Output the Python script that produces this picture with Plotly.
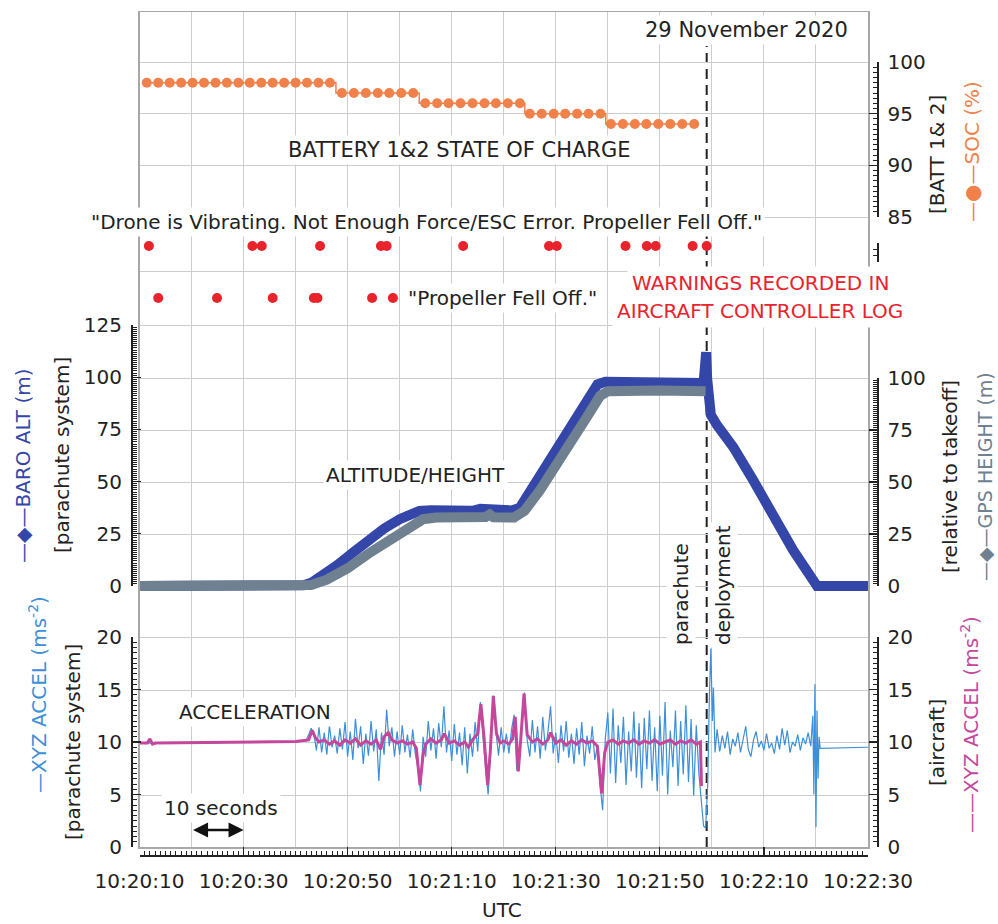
import pandas as pd
import plotly.graph_objects as go

# ---------------- data (seconds after 10:20:10 UTC, 29 Nov 2020) ----------------
BASE = pd.Timestamp("2020-11-29 10:20:10")

soc_t = [1.4, 3.6, 5.8, 8.0, 10.2, 12.4, 14.6, 16.8, 19.0, 21.2, 23.4, 25.6, 27.8, 30.0, 32.2, 34.4, 36.6,
         38.9, 41.2, 43.5, 45.8, 48.0, 50.3, 52.6,
         54.9, 57.2, 59.4, 61.7, 64.0, 66.3, 68.5, 70.8, 73.1,
         75.0, 77.3, 79.6, 81.8, 84.1, 86.3, 88.6,
         90.6, 92.9, 95.2, 97.4, 99.7, 102.0, 104.3, 106.6]
soc_v = [98] * 17 + [97] * 7 + [96] * 9 + [95] * 7 + [94] * 8

warn_row1_t = [1.8, 21.7, 23.5, 34.7, 46.4, 47.5, 62.2, 78.7, 80.2, 93.4, 97.5, 99.2, 106.3, 109.0]
warn_row2_t = [3.6, 14.9, 25.6, 33.5, 34.2, 44.7, 48.7]
WARN_ROW1 = 2
WARN_ROW2 = 1

baro_t = [0, 30, 31.5, 33, 35, 38, 41, 44, 47, 50, 52, 53.8, 56, 60, 64, 65.5, 66.8, 68.3, 71.5, 73.1,
          75, 78, 81, 84, 86.5, 88, 89.5, 95, 100, 105, 108.4, 108.7, 108.9, 109.1, 109.4, 109.8,
          111, 114.1, 117.9, 121.7, 125.6, 130.2, 140]
baro_v = [0, 0, 0.3, 1.5, 4.5, 10, 16, 22, 27.5, 32, 34.5, 36.0, 36.3, 36.0, 36.0, 37.0, 36.8, 36.0, 36.2, 37.5,
          45, 57, 69, 81, 91, 96.5, 97.8, 97.5, 97.6, 97.5, 97.2, 106, 112, 99, 86, 82,
          77, 66.6, 50.8, 33.2, 17.2, 0, 0]

gps_t = [0, 31, 33, 36, 40, 44, 48, 52, 54.5, 57, 64, 66.5, 67.3, 68, 72, 74, 77, 80, 83, 86, 88.5, 90, 100, 108.8]
gps_v = [0, 0, 0.5, 3, 8.5, 15.5, 22, 28.5, 32, 32.8, 32.8, 33.0, 34.2, 32.9, 32.8, 36, 46, 57, 69, 81, 91.0, 93.3, 93.6, 93.3]

acc_para_t = [0, 5, 10, 15, 20, 25, 30, 32, 33,
              33.5, 34.0, 34.5, 35.0, 35.5, 36.0, 36.5, 37.0, 37.5, 38.0, 38.5, 39.0, 39.5, 40.0, 40.5, 41.0,
              41.5, 42.0, 42.5, 43.0, 43.5, 44.0, 44.5, 45.0, 45.5, 46.0, 46.5, 47.0, 47.5, 48.0, 48.5, 49.0,
              49.5, 50.0, 50.5, 51.0, 51.5, 52.0, 52.5, 53.0, 53.5, 54.0, 54.5, 55.0, 55.5, 56.0, 56.5, 57.0,
              57.5, 58.0, 58.5, 59.0, 59.5, 60.0, 60.5, 61.0, 61.5, 62.0, 62.5, 63.0, 63.5, 64.0, 64.5, 65.0,
              65.5, 66.0, 66.5, 67.0, 67.5, 68.0, 68.5, 69.0, 69.5, 70.0, 70.5, 71.0, 71.5, 72.0, 72.5, 73.0,
              73.5, 74.0, 74.5, 75.0, 75.5, 76.0, 76.5, 77.0, 77.5, 78.0, 78.5, 79.0, 79.5, 80.0, 80.5, 81.0,
              81.5, 82.0, 82.5, 83.0, 83.5, 84.0, 84.5, 85.0, 85.5, 86.0, 86.5, 87.0, 87.5, 88.0, 88.5, 89.0,
              89.5, 90.0, 90.5, 91.0, 91.5, 92.0, 92.5, 93.0, 93.5, 94.0, 94.5, 95.0, 95.5, 96.0, 96.5, 97.0,
              97.5, 98.0, 98.5, 99.0, 99.5, 100.0, 100.5, 101.0, 101.5, 102.0, 102.5, 103.0, 103.5, 104.0,
              104.5, 105.0, 105.5, 106.0, 106.5, 107.0, 107.5, 108.0,
              108.4, 108.8, 109.2, 109.5, 109.8, 110.1, 110.3, 110.6,
              111.0, 111.5, 112.0, 112.5, 113.0, 113.5, 114.0, 114.5, 115.0, 115.5, 116.0, 116.5, 117.0,
              117.5, 118.0, 118.5, 119.0, 119.5, 120.0, 120.5, 121.0, 121.5, 122.0, 122.5, 123.0, 123.5,
              124.0, 124.5, 125.0, 125.5, 126.0, 126.5, 127.0, 127.5, 128.0, 128.5, 129.0, 129.4, 129.6,
              129.8, 130.0, 130.2, 130.4, 130.6, 130.8, 140.0]
acc_para_v = [9.9, 9.9, 9.95, 9.95, 10.0, 10.0, 10.0, 10.1, 11.3,
              10.8, 9.2, 11.4, 9.0, 10.9, 8.8, 11.6, 9.5, 10.6, 8.9, 11.3, 9.3, 11.9, 8.6, 11.0, 8.3,
              12.2, 9.4, 11.5, 7.9, 10.8, 8.7, 12.0, 9.1, 11.2, 6.3, 10.9, 8.8, 13.1, 9.6, 11.4, 8.6,
              11.0, 8.8, 11.6, 9.0, 10.7, 8.5, 11.2, 8.9, 7.5, 5.3, 10.5, 8.6, 12.0, 9.2, 11.3, 8.4,
              11.8, 9.5, 13.4, 9.0, 11.1, 8.2, 11.7, 8.8, 10.9, 7.8, 11.4, 7.0, 10.8, 8.6, 11.9, 9.1,
              13.8, 10.5, 7.5, 5.0, 9.5, 14.4, 11.0, 8.7, 11.4, 9.0, 10.8, 8.9, 11.2, 12.6, 7.3, 8.3,
              12.2, 14.7, 10.2, 8.6, 12.1, 9.0, 11.5, 8.4, 12.4, 9.2, 11.0, 13.4, 8.9, 10.9, 8.0, 11.6,
              9.1, 12.0, 8.5, 10.8, 7.9, 11.3, 8.8, 11.9, 7.7, 10.6, 8.9, 11.5, 8.3, 9.6, 6.0, 3.5,
              10.2, 12.8, 7.0, 13.2, 6.1, 11.6, 8.0, 12.4, 5.9, 11.0, 7.2, 12.9, 6.6, 11.8, 5.6, 12.3,
              7.4, 13.0, 6.3, 11.4, 5.3, 12.5, 6.8, 13.8, 5.0, 11.1, 7.6, 13.0, 5.8, 12.0,
              6.9, 13.5, 6.2, 12.2, 4.9, 11.6, 7.0, 4.5,
              2.0, 1.8, 6.0, 14.0, 18.9, 12.0, 15.2, 9.0,
              11.2, 9.1, 10.6, 9.4, 11.0, 8.8, 10.3, 9.6, 10.9, 9.0, 10.4, 11.5, 9.3,
              8.6, 10.2, 11.0, 9.5, 10.1, 9.2, 10.8, 9.4, 9.9, 8.9, 10.6, 9.3, 11.3,
              9.7, 11.1, 9.0, 10.0, 9.6, 10.7, 9.2, 10.4, 9.8, 10.9, 9.6, 12.5, 5.0,
              15.5, 1.9, 13.0, 6.5, 10.5, 9.4, 9.5]

acc_air_t = [0, 1.5, 2.0, 2.5, 3, 10, 20, 30, 32.5, 33.2, 33.8, 34.5,
             35.5, 36.5, 37.5, 38.5, 39.5, 40.5, 41.5, 42.5, 43.5, 44.5, 45.5, 46.3, 47.0, 47.8, 48.5,
             49.5, 50.5, 51.5, 52.5, 53.2, 53.9, 54.5, 55.0, 56.0, 57.0, 58.0, 58.6, 59.5, 60.5, 61.5,
             62.5, 63.2, 64.0, 65.0, 65.6, 66.2, 66.9, 67.4, 68.0, 68.6, 69.3, 70.0, 71.0, 71.7, 72.2,
             72.8, 73.3, 73.9, 74.5, 75.5, 76.5, 77.5, 78.5, 79.0, 80.0, 81.0, 82.0, 83.0, 84.0, 85.0,
             86.0, 87.0, 88.0, 88.8, 89.4, 90.0, 91, 92, 93, 94, 95, 96, 97, 98, 99, 100, 101, 102,
             103, 104, 105, 106, 107, 107.8, 108.0]
acc_air_v = [9.9, 9.9, 10.3, 9.8, 9.9, 9.95, 10.0, 10.05, 10.2, 11.1, 10.4, 10.0,
             10.2, 9.8, 10.1, 9.7, 10.2, 9.9, 10.3, 9.7, 10.1, 9.8, 10.2, 9.3, 10.5, 10.9, 10.2,
             9.9, 10.1, 9.8, 10.0, 9.4, 5.9, 8.8, 9.8, 10.3, 9.9, 10.2, 10.8, 9.9, 10.1, 9.7,
             10.0, 9.5, 10.2, 10.8, 13.6, 10.5, 5.9, 9.0, 14.4, 10.8, 9.9, 10.1, 9.8, 10.3, 12.4,
             7.2, 10.5, 14.6, 10.7, 10.0, 10.3, 9.8, 10.2, 10.9, 9.9, 10.2, 9.7, 10.1, 9.8, 10.2,
             9.9, 10.1, 9.6, 5.1, 9.0, 10.0, 10.2, 9.8, 10.1, 9.9, 10.2, 9.8, 10.1, 9.9, 10.2, 9.8, 10.0, 10.2,
             9.8, 10.1, 9.9, 10.2, 9.8, 10.0, 5.8]

deploy_t = 109.0
x_tick_labels_every_s = 20

# ---------------- geometry (reference pixel coordinates) ----------------
W, H = 998, 924
ML, MT, MR, MB = 131, 12, 998 - 877, 924 - 855
PW, PH = W - ML - MR, H - MT - MB
FRAME_BOTTOM, FRAME_TOP = 847, 12
GRID_ROWS = [847, 795, 742, 690, 637, 586, 534, 482, 430, 378, 325, 271, 217, 165, 113, 62, 12]


def px(x):
    return (x - ML) / PW


def py(y):
    return (H - MB - y) / PH


def span(v0, p0, v1, p1):
    """data range of an overlay axis so that value v0 sits on pixel row p0 and v1 on p1"""
    s = (v1 - v0) / (p0 - p1)
    return [v0 + (p0 - FRAME_BOTTOM) * s, v0 + (p0 - FRAME_TOP) * s]


def T(lst):
    return [BASE + pd.Timedelta(seconds=s) for s in lst]


def Ts(s):
    return (BASE + pd.Timedelta(seconds=s)).strftime("%Y-%m-%d %H:%M:%S.%f")[:-3]


FONT = "DejaVu Sans"
INK = "#222222"
GRID = "#cdcdcd"
FRAME = "#a8a8a8"
BLUE = "#3447a8"
GREY = "#6f8091"
ORANGE = "#f0814b"
RED = "#e8232b"
LBLUE = "#3c8fd8"
MAGENTA = "#c4479c"

XR = [Ts(0), Ts(140)]
XD = [px(139.5), px(868)]
YD = [py(FRAME_BOTTOM), py(FRAME_TOP)]

fig = go.Figure()
fig.add_trace(go.Scatter(x=T(soc_t), y=soc_v, mode="lines+markers", yaxis="y2",
                         line=dict(color=ORANGE, width=1.5, shape="hvh"),
                         marker=dict(size=10, color=ORANGE)))
fig.add_trace(go.Scatter(x=T(warn_row1_t), y=[WARN_ROW1] * len(warn_row1_t), mode="markers", yaxis="y3",
                         marker=dict(size=10, color=RED)))
fig.add_trace(go.Scatter(x=T(warn_row2_t), y=[WARN_ROW2] * len(warn_row2_t), mode="markers", yaxis="y3",
                         marker=dict(size=10, color=RED)))
fig.add_trace(go.Scatter(x=T(baro_t), y=baro_v, mode="lines", yaxis="y4",
                         line=dict(color=BLUE, width=10)))
fig.add_trace(go.Scatter(x=T(gps_t), y=gps_v, mode="lines", yaxis="y4",
                         line=dict(color=GREY, width=10)))
fig.add_trace(go.Scatter(x=T(acc_para_t), y=acc_para_v, mode="lines", yaxis="y5",
                         line=dict(color=LBLUE, width=1.2)))
fig.add_trace(go.Scatter(x=T(acc_air_t), y=acc_air_v, mode="lines", yaxis="y5",
                         line=dict(color=MAGENTA, width=3)))

# invisible copies that bind the scale (tick) axes to the same data
ghost = dict(mode="lines", line=dict(width=0), opacity=0, hoverinfo="skip")
fig.add_trace(go.Scatter(x=T(soc_t), y=soc_v, xaxis="x2", yaxis="y6", **ghost))
fig.add_trace(go.Scatter(x=T(warn_row1_t), y=[WARN_ROW1] * len(warn_row1_t), xaxis="x2", yaxis="y7", **ghost))
fig.add_trace(go.Scatter(x=T(baro_t), y=baro_v, xaxis="x2", yaxis="y8", **ghost))
fig.add_trace(go.Scatter(x=T(gps_t), y=gps_v, xaxis="x2", yaxis="y9", **ghost))
fig.add_trace(go.Scatter(x=T(acc_para_t), y=acc_para_v, xaxis="x2", yaxis="y10", **ghost))
fig.add_trace(go.Scatter(x=T(acc_air_t), y=acc_air_v, xaxis="x2", yaxis="y11", **ghost))

tickfont = dict(family=FONT, size=20, color=INK)


def tick_axis(pix, rng, dtick, minor, side, **kw):
    d = dict(domain=[py(pix[0]), py(pix[1])], range=rng, anchor="free",
             position=0 if side == "left" else 1, side=side, automargin=False,
             tick0=0, dtick=dtick, ticks="inside", ticklen=8, tickwidth=1.2, tickcolor=INK,
             showline=True, linecolor=INK, linewidth=1.5, showgrid=False, zeroline=False,
             tickfont=tickfont, ticklabelstandoff=5,
             minor=dict(dtick=minor, ticks="inside", ticklen=4, tickwidth=1, tickcolor=INK, showgrid=False))
    d.update(kw)
    return d


layout = dict(
    width=W, height=H, margin=dict(l=ML, r=MR, t=MT, b=MB, pad=0, autoexpand=False),
    paper_bgcolor="white", plot_bgcolor="rgba(0,0,0,0)",
    font=dict(family=FONT, size=20, color=INK),
    showlegend=False,
    xaxis=dict(domain=XD, type="date", range=XR, tick0=Ts(0), dtick=10000, showgrid=True,
               gridcolor=GRID, gridwidth=1, showticklabels=False, ticks="", showline=True,
               mirror=True, linecolor=FRAME, linewidth=1.5, zeroline=False, anchor="y", automargin=False),
    xaxis2=dict(domain=XD, type="date", range=XR, overlaying="x", anchor="free", position=0,
                side="bottom", tick0=Ts(0), dtick=x_tick_labels_every_s * 1000, tickformat="%H:%M:%S",
                ticks="inside", ticklen=8, tickwidth=1.2, tickcolor=INK, showline=True, linecolor=INK,
                linewidth=1.5, showgrid=False, zeroline=False, tickfont=tickfont, ticklabelstandoff=7,
                automargin=False,
                minor=dict(dtick=1000, ticks="inside", ticklen=4, tickwidth=1, tickcolor=INK, showgrid=False)),
    # background grid axis: its values are pixel rows (negated)
    yaxis=dict(domain=YD, range=[-FRAME_BOTTOM, -FRAME_TOP], tickmode="array",
               tickvals=[-r for r in GRID_ROWS], showgrid=True, gridcolor=GRID,
               showticklabels=False, ticks="", showline=True, mirror=True, linecolor=FRAME,
               linewidth=1.5, zeroline=False, automargin=False),
    yaxis2=dict(overlaying="y", range=span(85, 217, 100, 62), visible=False),
    yaxis3=dict(overlaying="y", range=span(WARN_ROW2, 298, WARN_ROW1, 246), visible=False),
    yaxis4=dict(overlaying="y", range=span(0, 586, 125, 325), visible=False),
    yaxis5=dict(overlaying="y", range=span(0, 847, 20, 637), visible=False),
    yaxis6=tick_axis((217, 62), [85, 100], 5, 0.5, "right"),
    yaxis7=tick_axis((262, 243), [0, 3], 1, 1, "right", showticklabels=False, ticklen=4),
    yaxis8=tick_axis((586, 325), [0, 125], 25, 1, "left"),
    yaxis9=tick_axis((586, 378), [0, 100], 25, 1, "right"),
    yaxis10=tick_axis((847, 637), [0, 20], 5, 0.5, "left"),
    yaxis11=tick_axis((847, 637), [0, 20], 5, 0.5, "right"),
)
fig.update_layout(**layout)

fig.add_shape(type="line", xref="x", yref="paper", x0=Ts(deploy_t), x1=Ts(deploy_t),
              y0=py(FRAME_BOTTOM), y1=py(46), line=dict(color=INK, width=2, dash="10px,6px"), layer="below")


def ann(text, x, y, size=20, color=INK, bg="white", angle=0, xanchor="center", pad=2):
    fig.add_annotation(text=text, x=px(x), y=py(y), xref="paper", yref="paper", showarrow=False,
                       font=dict(family=FONT, size=size, color=color), bgcolor=bg, textangle=angle,
                       xanchor=xanchor, yanchor="middle", borderpad=pad)


ann("29 November 2020", 851, 30, size=21, xanchor="right")
ann("BATTERY 1&2 STATE OF CHARGE", 459, 150, size=21)
ann('"Drone is Vibrating. Not Enough Force/ESC Error. Propeller Fell Off."', 426, 222, size=20)
ann('"Propeller Fell Off."', 405, 298, size=20, xanchor="left")
ann("WARNINGS RECORDED IN", 760, 283, size=20, color=RED, pad=4)
ann("AIRCRAFT CONTROLLER LOG", 760, 311, size=20, color=RED, pad=4)
ann("ALTITUDE/HEIGHT", 415, 475, size=20)
ann("parachute", 681, 594, size=20, angle=-90)
ann("deployment", 723, 585, size=20, angle=-90)
ann("ACCELERATION", 255, 712, size=20)
ann("10 seconds", 221, 808, size=20)
ann("UTC", 502, 910, size=20, bg=None)

# axis titles (rotated)
ann("—◆—BARO ALT (m)", 23, 465, size=20, color=BLUE, bg=None, angle=-90)
ann("[parachute system]", 62, 455, size=20, bg=None, angle=-90)
ann("—XYZ ACCEL (ms<sup>-2</sup>)", 38, 695, size=20, color=LBLUE, bg=None, angle=-90)
ann("[parachute system]", 73, 742, size=20, bg=None, angle=-90)
ann("[BATT 1& 2]", 937, 155, size=20, bg=None, angle=-90)
ann("—●—SOC (%)", 972, 152, size=20, color=ORANGE, bg=None, angle=-90)
ann("[relative to takeoff]", 950, 477, size=20, bg=None, angle=-90)
ann("—◆—GPS HEIGHT (m)", 985, 477, size=19, color=GREY, bg=None, angle=-90)
ann("[aircraft]", 937, 743, size=20, bg=None, angle=-90)
ann("——XYZ ACCEL (ms<sup>-2</sup>)", 970, 725, size=20, color=MAGENTA, bg=None, angle=-90)

# 10-second scale arrow (base axis values are negated pixel rows)
fig.add_annotation(x=Ts(20), y=-830, xref="x", yref="y", ax=Ts(10), ay=-830, axref="x", ayref="y",
                   text="", showarrow=True, arrowside="end+start", arrowhead=2, arrowsize=1.2,
                   arrowwidth=2.5, arrowcolor="#111111")

fig.write_html("out.html", config={"displayModeBar": False, "staticPlot": True},
               post_script="document.body.style.margin='0px';document.body.style.overflow='hidden';")
